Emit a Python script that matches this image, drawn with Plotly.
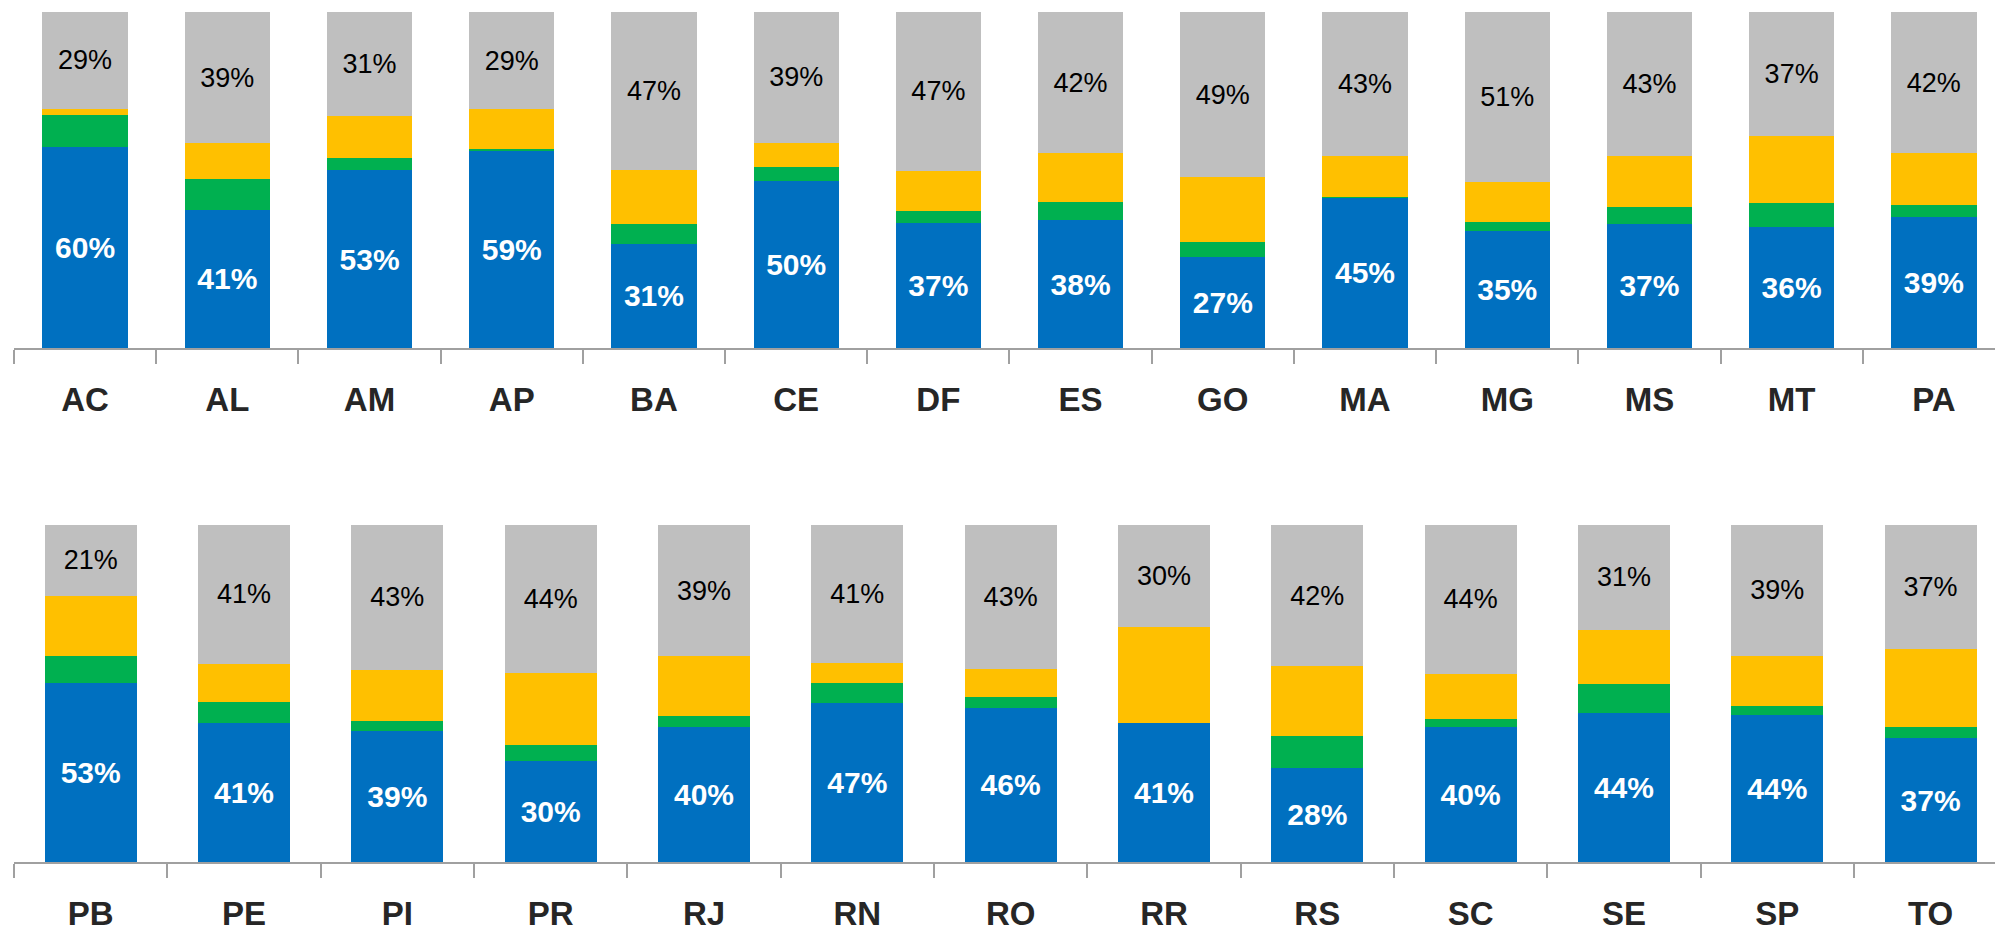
import plotly.graph_objects as go

# ---- data ----
states_top = ["AC", "AL", "AM", "AP", "BA", "CE", "DF", "ES", "GO", "MA", "MG", "MS", "MT", "PA"]
blue_top = [60, 41, 53, 59, 31, 50, 37, 38, 27, 45, 35, 37, 36, 39]
green_top = [9.7, 9.1, 3.6, 0.5, 5.8, 4.1, 3.5, 5.5, 4.4, 0.2, 2.6, 5.0, 7.1, 3.5]
yellow_top = [1.8, 10.7, 12.7, 11.9, 16.0, 7.3, 12.0, 14.3, 19.2, 12.1, 12.0, 15.2, 20.1, 15.3]
gray_top = [29, 39, 31, 29, 47, 39, 47, 42, 49, 43, 51, 43, 37, 42]

states_bot = ["PB", "PE", "PI", "PR", "RJ", "RN", "RO", "RR", "RS", "SC", "SE", "SP", "TO"]
blue_bot = [53, 41, 39, 30, 40, 47, 46, 41, 28, 40, 44, 44, 37]
green_bot = [8.0, 6.2, 2.8, 4.7, 3.5, 6.1, 3.3, 0.0, 9.5, 2.3, 8.5, 2.6, 3.4]
yellow_bot = [17.9, 11.4, 15.3, 21.2, 17.6, 5.7, 8.1, 28.3, 20.6, 13.4, 16.1, 15.1, 23.3]
gray_bot = [21, 41, 43, 44, 39, 41, 43, 30, 42, 44, 31, 39, 37]

BLUE, GREEN, YELLOW, GRAY = "#0070C0", "#00B050", "#FFC000", "#BFBFBF"
FONT = "Liberation Sans, Arial, sans-serif"

fig = go.Figure()


def add_row(states, blue, green, yellow, gray, xa, ya):
    fig.add_trace(go.Bar(
        x=states, y=blue, marker=dict(color=BLUE, line=dict(width=0)),
        text=[f"{v:.0f}%" for v in blue], textposition="inside",
        insidetextanchor="middle", textangle=0,
        textfont=dict(color="white", size=30, family=FONT, weight="bold"),
        xaxis=xa, yaxis=ya, showlegend=False, hoverinfo="skip"))
    fig.add_trace(go.Bar(
        x=states, y=green, marker=dict(color=GREEN, line=dict(width=0)),
        xaxis=xa, yaxis=ya, showlegend=False, hoverinfo="skip"))
    fig.add_trace(go.Bar(
        x=states, y=yellow, marker=dict(color=YELLOW, line=dict(width=0)),
        xaxis=xa, yaxis=ya, showlegend=False, hoverinfo="skip"))
    fig.add_trace(go.Bar(
        x=states, y=gray, marker=dict(color=GRAY, line=dict(width=0)),
        text=[f"{v:.0f}%" for v in gray], textposition="inside",
        insidetextanchor="middle", textangle=0,
        textfont=dict(color="black", size=27, family=FONT),
        xaxis=xa, yaxis=ya, showlegend=False, hoverinfo="skip"))


add_row(states_top, blue_top, green_top, yellow_top, gray_top, "x", "y")
add_row(states_bot, blue_bot, green_bot, yellow_bot, gray_bot, "x2", "y2")

W, H = 1995, 931
xdom = [14 / W, 1.0]

xcommon = dict(
    showline=True, linecolor="#A0A0A0", linewidth=1.5,
    ticks="outside", tickson="boundaries", ticklen=14, tickcolor="#A0A0A0", tickwidth=1.5,
    showgrid=False, zeroline=False, type="category", automargin=False,
    tickfont=dict(size=33, color="#262626", family=FONT, weight="bold"),
    ticklabelstandoff=22,
)
ycommon = dict(showticklabels=False, showgrid=False, zeroline=False, showline=False,
               range=[0, 100], automargin=False)

fig.update_layout(
    width=W, height=H, autosize=False,
    margin=dict(l=0, r=0, t=0, b=0, pad=0),
    paper_bgcolor="white", plot_bgcolor="white",
    barmode="stack", barnorm="percent", bargap=0.4,
    xaxis=dict(domain=xdom, anchor="y", range=[-0.5, 13.43], **xcommon),
    yaxis=dict(domain=[1 - 348 / H, 1 - 12 / H], anchor="x", **ycommon),
    xaxis2=dict(domain=xdom, anchor="y2", range=[-0.5, 12.42], **xcommon),
    yaxis2=dict(domain=[1 - 862 / H, 1 - 525 / H], anchor="x2", **ycommon),
)

fig.write_html(
    "out.html",
    config={"displayModeBar": False},
    post_script="document.body.style.margin='0';document.body.style.overflow='hidden';",
)
